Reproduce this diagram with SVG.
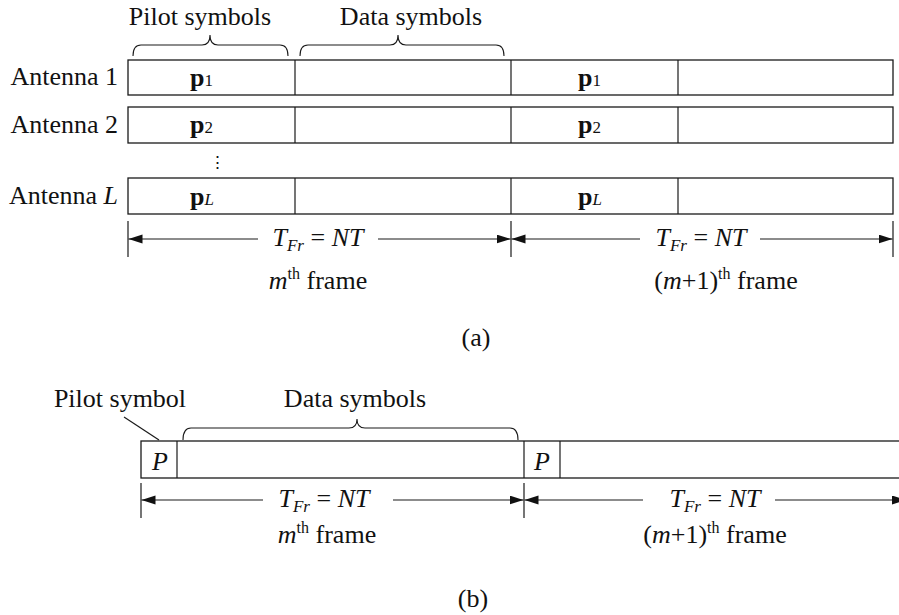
<svg xmlns="http://www.w3.org/2000/svg" width="899" height="615" viewBox="0 0 899 615">
  <style>
    text { font-family: "Liberation Serif", "Times New Roman", serif; font-size: 26px; fill: #111; }
    .mid { text-anchor: middle; }
    .end { text-anchor: end; }
    .it { font-style: italic; }
    .bf { font-weight: bold; }
    .sub { font-size: 17px; }
    .sup { font-size: 16px; }
    .cell { fill: #fff; stroke: #1a1a1a; stroke-width: 1.3; }
    .ln { fill: none; stroke: #1a1a1a; stroke-width: 1.2; }
    .brace { fill: none; stroke: #1a1a1a; stroke-width: 1.1; }
    .dim { fill: none; stroke: #1a1a1a; stroke-width: 1.2; }
  </style>
  <defs>
    <marker id="arrow" markerUnits="userSpaceOnUse" markerWidth="15" markerHeight="10" refX="14" refY="4.5" orient="auto-start-reverse">
      <path d="M0,0 L14,4.5 L0,9 z" fill="#111"/>
    </marker>
  </defs>
  <rect width="899" height="615" fill="#fff"/>

  <!-- ===== (a) multi-antenna frame structure ===== -->
  <g id="a-labels">
    <text class="mid" x="200" y="25">Pilot symbols</text>
    <text class="mid" x="411" y="25">Data symbols</text>
    <path class="brace" d="M133,56 Q133,45 141,45 L202,45 Q210,45 210,35 Q210,45 218,45 L280,45 Q288,45 288,56"/>
    <path class="brace" d="M300,56 Q300,45 308,45 L390,45 Q398,45 398,35 Q398,45 406,45 L496,45 Q504,45 504,56"/>
  </g>

  <g id="antenna-1">
    <text class="end" x="118" y="85">Antenna 1</text>
    <rect class="cell" x="128" y="60" width="765" height="35"/>
    <line class="ln" x1="295" y1="60" x2="295" y2="95"/>
    <line class="ln" x1="511" y1="60" x2="511" y2="95"/>
    <line class="ln" x1="678" y1="60" x2="678" y2="95"/>
    <text x="190" y="86"><tspan class="bf">p</tspan><tspan class="sub">1</tspan></text>
    <text x="578" y="86"><tspan class="bf">p</tspan><tspan class="sub">1</tspan></text>
  </g>

  <g id="antenna-2">
    <text class="end" x="118" y="133">Antenna 2</text>
    <rect class="cell" x="128" y="107" width="765" height="36"/>
    <line class="ln" x1="295" y1="107" x2="295" y2="143"/>
    <line class="ln" x1="511" y1="107" x2="511" y2="143"/>
    <line class="ln" x1="678" y1="107" x2="678" y2="143"/>
    <text x="190" y="133"><tspan class="bf">p</tspan><tspan class="sub">2</tspan></text>
    <text x="578" y="133"><tspan class="bf">p</tspan><tspan class="sub">2</tspan></text>
  </g>

  <g id="antenna-dots">
    <text class="mid" x="217" y="168" style="font-family: 'DejaVu Serif', serif; font-size: 17px;">⋮</text>
  </g>

  <g id="antenna-L">
    <text class="end" x="118" y="204">Antenna <tspan class="it">L</tspan></text>
    <rect class="cell" x="128" y="178" width="765" height="36"/>
    <line class="ln" x1="295" y1="178" x2="295" y2="214"/>
    <line class="ln" x1="511" y1="178" x2="511" y2="214"/>
    <line class="ln" x1="678" y1="178" x2="678" y2="214"/>
    <text x="190" y="205"><tspan class="bf">p</tspan><tspan class="sub it">L</tspan></text>
    <text x="578" y="205"><tspan class="bf">p</tspan><tspan class="sub it">L</tspan></text>
  </g>

  <g id="a-dimensions">
    <line class="ln" x1="128" y1="221" x2="128" y2="257"/>
    <line class="ln" x1="511" y1="221" x2="511" y2="257"/>
    <line class="ln" x1="893" y1="221" x2="893" y2="257"/>
    <line class="dim" x1="258" y1="239" x2="128.5" y2="239" marker-end="url(#arrow)"/>
    <line class="dim" x1="378" y1="239" x2="510.5" y2="239" marker-end="url(#arrow)"/>
    <line class="dim" x1="640" y1="239" x2="511.5" y2="239" marker-end="url(#arrow)"/>
    <line class="dim" x1="760" y1="239" x2="892.5" y2="239" marker-end="url(#arrow)"/>
    <text class="mid" x="318" y="246"><tspan class="it">T</tspan><tspan class="sub it" dy="5">Fr</tspan><tspan dy="-5"> = </tspan><tspan class="it">NT</tspan></text>
    <text class="mid" x="701" y="246"><tspan class="it">T</tspan><tspan class="sub it" dy="5">Fr</tspan><tspan dy="-5"> = </tspan><tspan class="it">NT</tspan></text>
    <text class="mid" x="318" y="289"><tspan class="it">m</tspan><tspan class="sup" dy="-10">th</tspan><tspan dy="10"> frame</tspan></text>
    <text class="mid" x="726" y="289">(<tspan class="it">m</tspan>+1)<tspan class="sup" dy="-10">th</tspan><tspan dy="10"> frame</tspan></text>
  </g>

  <text id="caption-a" class="mid" x="476" y="346">(a)</text>

  <!-- ===== (b) single-antenna frame structure ===== -->
  <g id="b-labels">
    <text class="mid" x="120" y="407">Pilot symbol</text>
    <line class="ln" x1="124" y1="417" x2="159" y2="440"/>
    <text class="mid" x="355" y="407">Data symbols</text>
    <path class="brace" d="M183,440 Q183,428 191,428 L349,428 Q357,428 357,419 Q357,428 365,428 L510,428 Q518,428 518,440"/>
  </g>

  <g id="frame-b">
    <rect class="cell" x="141" y="441" width="770" height="37"/>
    <line class="ln" x1="177" y1="441" x2="177" y2="478"/>
    <line class="ln" x1="524" y1="441" x2="524" y2="478"/>
    <line class="ln" x1="560" y1="441" x2="560" y2="478"/>
    <text class="mid it" x="160" y="470">P</text>
    <text class="mid it" x="542" y="470">P</text>
  </g>

  <g id="b-dimensions">
    <line class="ln" x1="141" y1="483" x2="141" y2="518"/>
    <line class="ln" x1="524" y1="483" x2="524" y2="518"/>
    <line class="dim" x1="263" y1="500" x2="141.5" y2="500" marker-end="url(#arrow)"/>
    <line class="dim" x1="393" y1="500" x2="523.5" y2="500" marker-end="url(#arrow)"/>
    <line class="dim" x1="643" y1="500" x2="524.5" y2="500" marker-end="url(#arrow)"/>
    <line class="dim" x1="775" y1="500" x2="906" y2="500" marker-end="url(#arrow)"/>
    <text class="mid" x="324" y="507"><tspan class="it">T</tspan><tspan class="sub it" dy="5">Fr</tspan><tspan dy="-5"> = </tspan><tspan class="it">NT</tspan></text>
    <text class="mid" x="715" y="507"><tspan class="it">T</tspan><tspan class="sub it" dy="5">Fr</tspan><tspan dy="-5"> = </tspan><tspan class="it">NT</tspan></text>
    <text class="mid" x="327" y="543"><tspan class="it">m</tspan><tspan class="sup" dy="-10">th</tspan><tspan dy="10"> frame</tspan></text>
    <text class="mid" x="715" y="543">(<tspan class="it">m</tspan>+1)<tspan class="sup" dy="-10">th</tspan><tspan dy="10"> frame</tspan></text>
  </g>

  <text id="caption-b" class="mid" x="473" y="607">(b)</text>
</svg>
